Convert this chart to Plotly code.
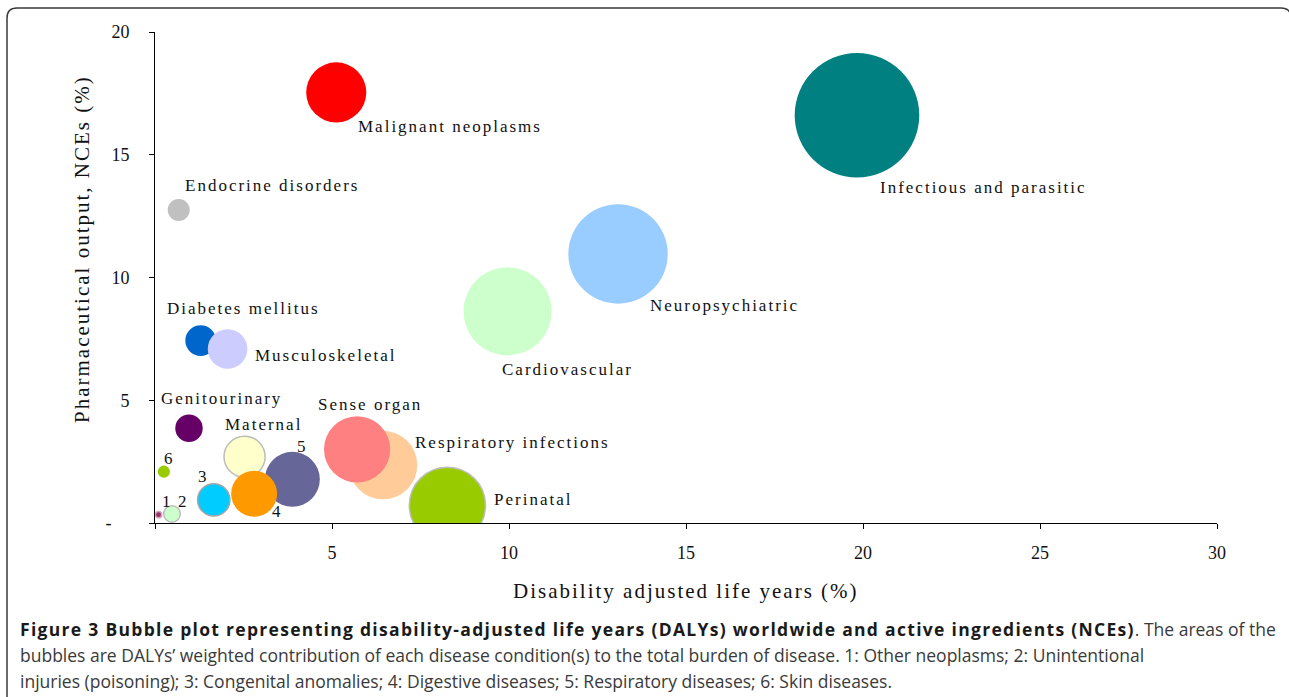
import plotly.graph_objects as go

# ---------------- data ----------------
categories = [
    "Infectious and parasitic", "Neuropsychiatric", "Cardiovascular",
    "Malignant neoplasms", "Endocrine disorders", "Diabetes mellitus",
    "Musculoskeletal", "Genitourinary", "Maternal", "5", "4", "3", "6",
    "2", "1", "Respiratory infections", "Sense organ", "Perinatal",
]
dalys_pct = [19.83, 13.08, 9.96, 5.12, 0.67, 1.29, 2.05, 0.96, 2.53,
             3.88, 2.80, 1.66, 0.25, 0.48, 0.10, 6.44, 5.71, 8.26]
nces_pct = [16.61, 10.96, 8.62, 17.54, 12.75, 7.43, 7.09, 3.86, 2.70,
            1.78, 1.19, 0.94, 2.09, 0.37, 0.34, 2.36, 3.00, 0.72]
bubble_size = [19.8, 12.6, 9.9, 4.6, 0.62, 1.2, 2.0, 0.96, 2.15,
               3.85, 2.7, 1.33, 0.19, 0.35, 0.05, 6.0, 5.6, 7.4]

x_tick_vals = [0, 5, 10, 15, 20, 25, 30]
x_tick_text = ["", "5", "10", "15", "20", "25", "30"]
y_tick_vals = [0, 5, 10, 15, 20]
y_tick_text = ["-\u00a0\u00a0\u00a0\u00a0", "5", "10", "15", "20"]

# ---------------- styles ----------------
colors = ["#008080", "#99CCFF", "#CCFFCC", "#FF0000", "#C0C0C0", "#0066CC",
          "#CCCCFF", "#660066", "#FFFFCC", "#666699", "#FF9900", "#00CCFF",
          "#99CC00", "#CCFFCC", "#993366", "#FFCC99", "#FF8080", "#99CC00"]
outline_col = ["rgba(0,0,0,0)"] * 8 + ["#BDBDBD"] + ["rgba(0,0,0,0)"] * 2 + \
              ["#A6A6A6"] + ["rgba(0,0,0,0)"] + ["#BDBDBD", "#D9A0C0"] + \
              ["rgba(0,0,0,0)"] * 2 + ["#BDBDBD"]
outline_w = [0 if c.startswith("rgba") else 1.5 for c in outline_col]

# label offsets in pixels (left edge of text relative to bubble centre)
label_dx = [21, 30, -8, 20, 4, -36, 25, -30, -22, 3, 16, -18, -2, 4, 1, 30, -41, 45]
label_dy = [-72, -52, -58, -34, 24, 32, -7, 30, 32, 33, -18, 23, 13, 12, 13, 23, 45, 6]

W, H = 1289, 697
L, R, T, B = 155, 72, 32, 174
PW, PH = W - L - R, H - T - B

serif = "Liberation Serif"

fig = go.Figure()
fig.add_trace(go.Scatter(
    x=dalys_pct, y=nces_pct, mode="markers",
    marker=dict(size=bubble_size, sizemode="area", sizeref=1 / 392,
                color=colors, opacity=1,
                line=dict(color=outline_col, width=outline_w)),
    hoverinfo="text", text=categories, showlegend=False,
))

annotations = []
for name, xv, yv, dx, dy in zip(categories, dalys_pct, nces_pct, label_dx, label_dy):
    annotations.append(dict(
        x=xv, y=yv, xref="x", yref="y", text=name, showarrow=False,
        xanchor="left", yanchor="middle", align="left", xshift=dx, yshift=dy,
        font=dict(family=serif, size=17, color="#111111"),
    ))


def px_x(px):
    return (px - L) / PW


def px_y(py):
    return (H - B - py) / PH


# axis titles
annotations.append(dict(
    x=px_x(686), y=px_y(591), xref="paper", yref="paper",
    text="Disability adjusted life years (%)", showarrow=False,
    xanchor="center", yanchor="middle",
    font=dict(family=serif, size=21, color="#111111"),
))
annotations.append(dict(
    x=px_x(82), y=px_y(249), xref="paper", yref="paper",
    text="Pharmaceutical output, NCEs (%)", showarrow=False, textangle=-90,
    xanchor="center", yanchor="middle",
    font=dict(family=serif, size=21, color="#111111"),
))

# caption
cap_font = dict(family="Open Sans", size=17.5, color="#3a3a3a")
caption_lines = [
    "<b>Figure 3 Bubble plot representing disability-adjusted life years (DALYs) worldwide and active ingredients (NCEs)</b>. The areas of the",
    "bubbles are DALYs’ weighted contribution of each disease condition(s) to the total burden of disease. 1: Other neoplasms; 2: Unintentional",
    "injuries (poisoning); 3: Congenital anomalies; 4: Digestive diseases; 5: Respiratory diseases; 6: Skin diseases.",
]
for line, ypx in zip(caption_lines, [629, 655, 681]):
    annotations.append(dict(
        x=px_x(18), y=px_y(ypx), xref="paper", yref="paper", text=line,
        showarrow=False, xanchor="left", yanchor="middle", align="left",
        font=cap_font,
    ))

# rounded frame
x0, x1, y0, y1, rr = 7, 1291, 8, 720, 10
path = (f"M {px_x(x0)},{px_y(y1)} L {px_x(x0)},{px_y(y0 + rr)} "
        f"Q {px_x(x0)},{px_y(y0)} {px_x(x0 + rr)},{px_y(y0)} "
        f"L {px_x(x1 - rr)},{px_y(y0)} "
        f"Q {px_x(x1)},{px_y(y0)} {px_x(x1)},{px_y(y0 + rr)} "
        f"L {px_x(x1)},{px_y(y1)}")

fig.update_layout(
    width=W, height=H,
    margin=dict(l=L, r=R, t=T, b=B, autoexpand=False),
    paper_bgcolor="white", plot_bgcolor="white",
    annotations=annotations,
    shapes=[dict(type="path", path=path, xref="paper", yref="paper",
                 line=dict(color="#3a3a3a", width=1.5), layer="below")],
    xaxis=dict(range=[0, 30], tickvals=x_tick_vals, ticktext=x_tick_text,
               ticks="outside", ticklen=5, tickcolor="black", tickwidth=1,
               showline=True, linecolor="black", linewidth=1,
               showgrid=False, zeroline=False, ticklabelstandoff=8,
               tickfont=dict(family=serif, size=18, color="#111111")),
    yaxis=dict(range=[0, 20], tickvals=y_tick_vals, ticktext=y_tick_text,
               ticks="outside", ticklen=5, tickcolor="black", tickwidth=1,
               showline=True, linecolor="black", linewidth=1,
               showgrid=False, zeroline=False, ticklabelstandoff=16,
               tickfont=dict(family=serif, size=18, color="#111111")),
)

post_js = """
document.body.style.margin = '0';
document.body.style.overflow = 'hidden';
function spaceOut() {
  document.querySelectorAll('text.annotation-text').forEach(function (t) {
    var ff = (t.style.fontFamily || '') + (t.getAttribute('style') || '');
    if (ff.indexOf('Liberation Serif') >= 0) { t.style.letterSpacing = '2px'; }
    t.querySelectorAll('tspan').forEach(function (s) {
      var st = s.getAttribute('style') || '';
      if (st.indexOf('bold') >= 0) {
        s.style.letterSpacing = '1.3px';
        s.style.fill = '#1a1a1a';
      }
    });
  });
}
spaceOut();
setTimeout(spaceOut, 0);
setTimeout(spaceOut, 50);
"""

fig.write_html("out.html", post_script=post_js,
               config={"displayModeBar": False})
